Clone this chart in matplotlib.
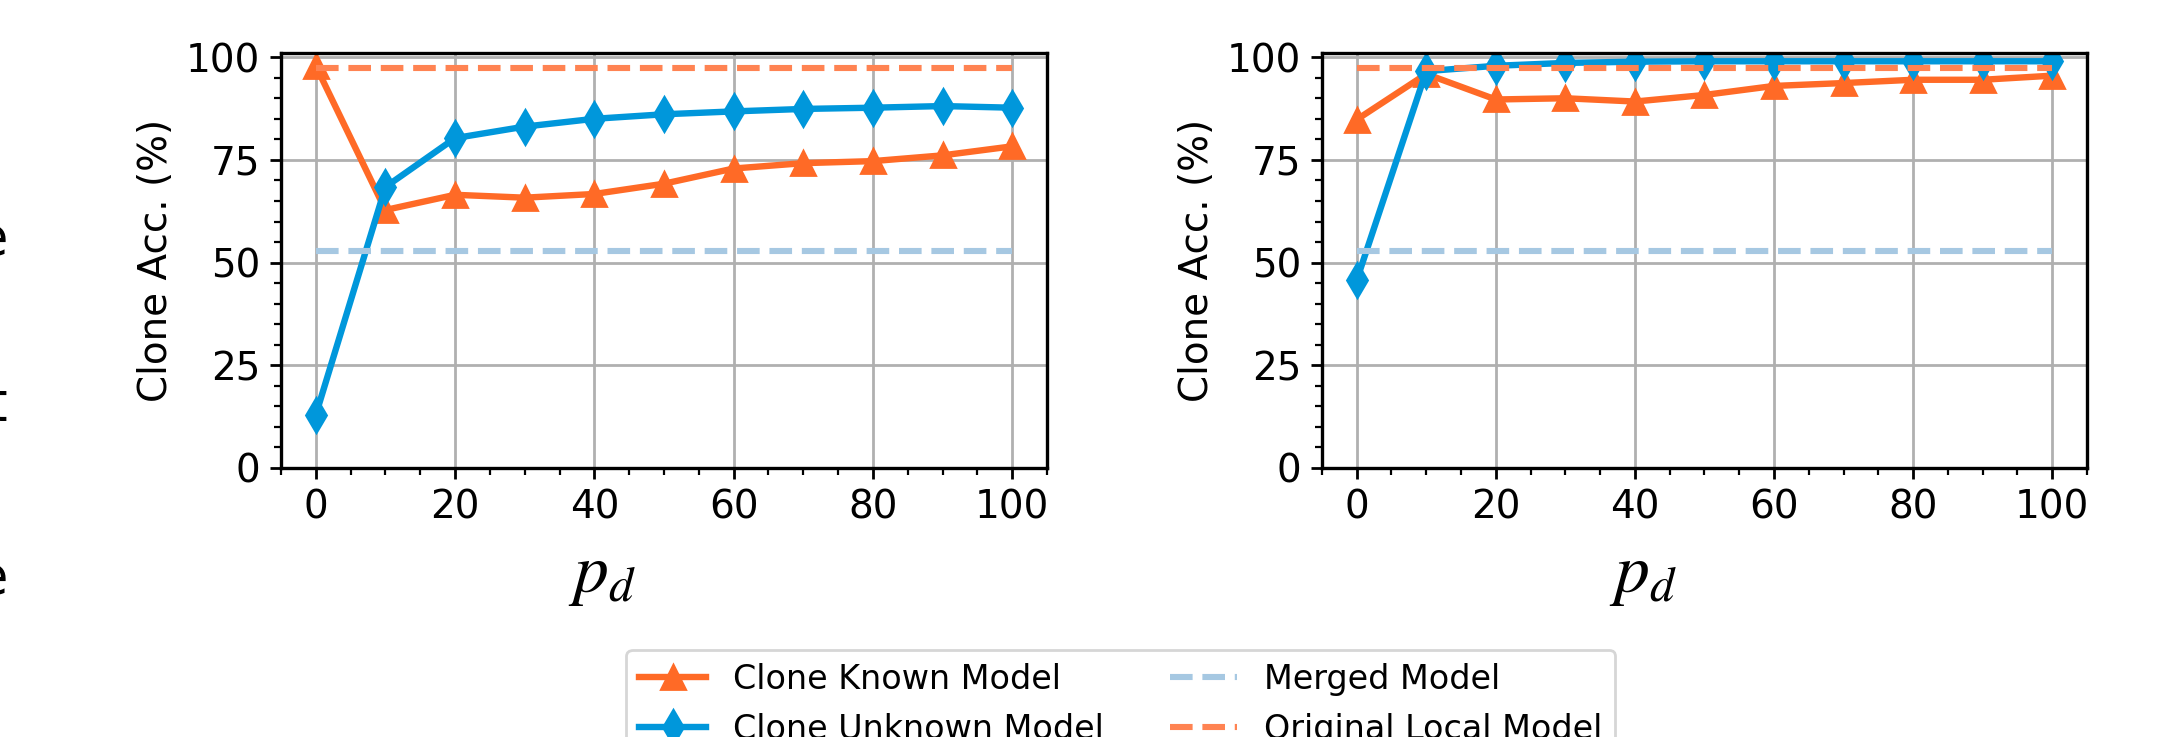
import numpy as np
from matplotlib import pyplot as plt
from matplotlib.ticker import MultipleLocator

plt.rcParams['mathtext.fontset'] = 'stix'

pd_vals = [0, 10, 20, 30, 40, 50, 60, 70, 80, 90, 100]

# left panel
known_left = [97.9, 62.8, 66.5, 65.8, 66.7, 69.2, 72.9, 74.2, 74.7, 76.1, 78.3]
unknown_left = [12.9, 68.4, 80.3, 83.1, 85.0, 86.1, 86.8, 87.4, 87.7, 88.1, 87.7]

# right panel
known_right = [84.8, 95.9, 89.7, 90.0, 89.2, 90.8, 93.0, 93.7, 94.5, 94.5, 95.5]
unknown_right = [45.7, 96.6, 97.9, 98.6, 98.9, 99.0, 99.0, 99.0, 99.0, 99.0, 99.0]

merged_acc = 52.7
original_acc = 97.4

c_known = '#FF6A26'
c_unknown = '#0097DB'
c_merged = '#A6C8E2'
c_original = '#FF8352'

fig = plt.figure(figsize=(10.88, 3.685), dpi=200)
ax_l = fig.add_axes([0.1291, 0.365, 0.3521, 0.563])
ax_r = fig.add_axes([0.6075, 0.365, 0.3516, 0.563])

for ax, known, unknown in [(ax_l, known_left, unknown_left), (ax_r, known_right, unknown_right)]:
    ax.plot(pd_vals, known, color=c_known, marker='^', ms=8.5, lw=2.3, label='Clone Known Model')
    ax.plot(pd_vals, unknown, color=c_unknown, marker='d', ms=8.5, lw=2.3, label='Clone Unknown Model')
    ax.plot(pd_vals, [merged_acc] * len(pd_vals), color=c_merged, ls='--', lw=2.2, label='Merged Model')
    ax.plot(pd_vals, [original_acc] * len(pd_vals), color=c_original, ls='--', lw=2.2, label='Original Local Model')
    ax.set_xlim(-5, 105)
    ax.set_ylim(0, 101)
    ax.set_xticks([0, 20, 40, 60, 80, 100])
    ax.set_yticks([0, 25, 50, 75, 100])
    ax.xaxis.set_minor_locator(MultipleLocator(5))
    ax.yaxis.set_minor_locator(MultipleLocator(5))
    ax.grid(True, which='major', color='#b0b0b0', lw=1)
    ax.set_axisbelow(True)
    ax.tick_params(labelsize=14, width=1, length=4)
    ax.tick_params(which='minor', length=2.5, width=0.8)
    for s in ax.spines.values():
        s.set_linewidth(1.2)
    ax.set_ylabel('Clone Acc. (%)', fontsize=14)
    ax.set_xlabel('$p_d$', fontsize=25, labelpad=5)
    ax.xaxis.label.set_x(0.419)

handles, labels = ax_l.get_legend_handles_labels()
fig.legend(handles, labels, loc='upper center', bbox_to_anchor=(0.515, 0.141), ncol=2,
           fontsize=12, frameon=True, edgecolor='#cccccc', columnspacing=2.0)

# pieces of text from a neighbouring panel, cut at the left edge
for y, s in [(0.675, 'e'), (0.45, 't'), (0.215, 'e')]:
    fig.text(0.0035, y, s, fontsize=19, ha='right', va='center')

fig.savefig('out.png', dpi=200)
